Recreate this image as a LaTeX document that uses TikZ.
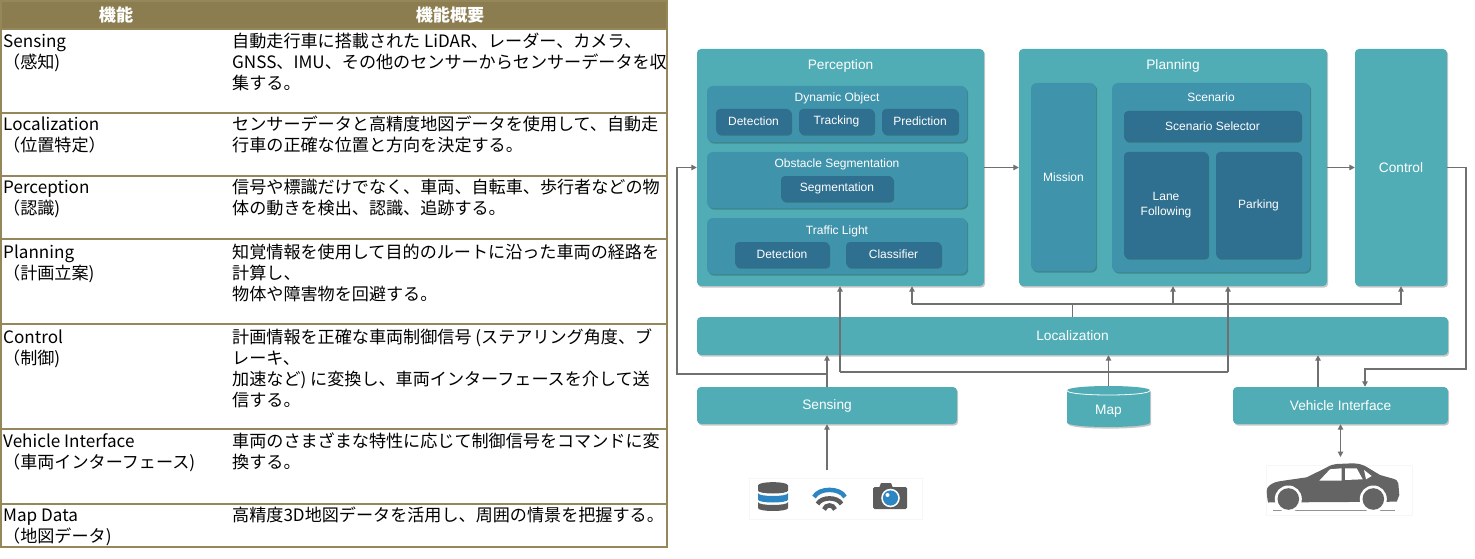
\documentclass[tikz,border=0pt]{standalone}
\usepackage{fontspec}
\setmainfont{Liberation Sans}
\newfontfamily\jp{Noto Sans CJK JP}
\usetikzlibrary{arrows.meta,shadows}
\definecolor{tealA}{HTML}{50ADB5}
\definecolor{tealB}{HTML}{3F93AB}
\definecolor{tealC}{HTML}{2F6F8F}
\definecolor{lineC}{HTML}{707070}
\definecolor{hdrC}{HTML}{8B7D50}
\definecolor{tblC}{HTML}{958759}
\definecolor{icoG}{HTML}{5C5C5C}
\definecolor{icoB}{HTML}{2D86C4}
\definecolor{carC}{HTML}{646464}
\tikzset{
  shd/.style={drop shadow={shadow xshift=1.2pt, shadow yshift=-1.6pt, fill=black, opacity=0.22}},
  obox/.style={shd, fill=tealA, rounded corners=4pt, inner sep=0pt, text=white, font=\fontsize{13.7}{16}\selectfont},
  gbox/.style={shd, fill=tealB, rounded corners=6pt, inner sep=0pt, text=white, font=\fontsize{12}{15}\selectfont},
  lbox/.style={shd, fill=tealC, rounded corners=4pt, inner sep=0pt, text=white, font=\fontsize{12}{15}\selectfont},
  ttl/.style={inner sep=0pt, text=white, font=\fontsize{13.7}{16}\selectfont},
  gtl/.style={inner sep=0pt, text=white, font=\fontsize{12}{15}\selectfont},
  conn/.style={draw=lineC, line width=1.2pt, -{Triangle[length=5.5pt,width=5.5pt]}},
  connb/.style={draw=lineC, line width=1.2pt, {Triangle[length=5.5pt,width=5.5pt]}-{Triangle[length=5.5pt,width=5.5pt]}},
  wire/.style={draw=lineC, line width=1.2pt},
  tblline/.style={draw=tblC, line width=1.5pt},
  tcell/.style={anchor=base west, inner sep=0pt, font=\jp\fontsize{17.1}{21}\selectfont},
  thead/.style={anchor=base, inner sep=0pt, text=white, font=\jp\bfseries\fontsize{17.1}{21}\selectfont},
}
\newcommand\mytl[4]{\node[tcell] (#1) at (#2,#3) {#4};}
\begin{document}
\begin{tikzpicture}[x=1pt,y=-1pt]
\useasboundingbox (0,0) rectangle (1475,559);
% ---------------- table ----------------
\fill[hdrC] (1,1) rectangle (667,29);
\draw[tblline] (1,1) rectangle (667,547);
\foreach \yy in {29,113,176,239,324,429,504} \draw[tblline] (1,\yy) -- (667,\yy);
\node[thead] (h1) at (116,21.5) {機能};
\node[thead] (h2) at (450,21.5) {機能概要};
% row 1
\mytl{a1}{3}{48}{Sensing}
\mytl{a2}{3}{69}{（感知)}
\mytl{b1}{232}{48}{自動走行車に搭載された LiDAR、レーダー、カメラ、}
\mytl{b2}{232}{69}{GNSS、IMU、その他のセンサーからセンサーデータを収}
\mytl{b3}{232}{90}{集する。}
% row 2
\mytl{c1}{3}{130.5}{Localization}
\mytl{c2}{3}{151.5}{（位置特定）}
\mytl{d1}{232}{130.5}{センサーデータと高精度地図データを使用して、自動走}
\mytl{d2}{232}{151.5}{行車の正確な位置と方向を決定する。}
% row 3
\mytl{e1}{3}{193.5}{Perception}
\mytl{e2}{3}{214.5}{（認識)}
\mytl{f1}{232}{193.5}{信号や標識だけでなく、車両、自転車、歩行者などの物}
\mytl{f2}{232}{214.5}{体の動きを検出、認識、追跡する。}
% row 4
\mytl{g1}{3}{258}{Planning}
\mytl{g2}{3}{279}{（計画立案)}
\mytl{k1}{232}{258}{知覚情報を使用して目的のルートに沿った車両の経路を}
\mytl{k2}{232}{279}{計算し、}
\mytl{k3}{232}{300}{物体や障害物を回避する。}
% row 5
\mytl{m1}{3}{343}{Control}
\mytl{m2}{3}{364}{（制御)}
\mytl{n1}{232}{343}{計画情報を正確な車両制御信号 (ステアリング角度、ブ}
\mytl{n2}{232}{364}{レーキ、}
\mytl{n3}{232}{385}{加速など) に変換し、車両インターフェースを介して送}
\mytl{n4}{232}{406}{信する。}
% row 6
\mytl{p1}{3}{447.5}{Vehicle Interface}
\mytl{p2}{3}{468.5}{（車両インターフェース)}
\mytl{q1}{232}{447.5}{車両のさまざまな特性に応じて制御信号をコマンドに変}
\mytl{q2}{232}{468.5}{換する。}
% row 7
\mytl{r1}{3}{521.5}{Map Data}
\mytl{r2}{3}{542.5}{（地図データ)}
\mytl{s1}{232}{521.5}{高精度3D地図データを活用し、周囲の情景を把握する。}
% ---------------- diagram ----------------
% Perception
\node[obox, minimum width=287pt, minimum height=237pt] (perc) at (840.5,167.5) {};
\node[ttl] (percT) at (840.5,66) {Perception};
\node[gbox, minimum width=260pt, minimum height=56pt] (dyn) at (837,114) {};
\node[gtl] (dynT) at (837,98) {Dynamic Object};
\node[lbox, minimum width=75pt, minimum height=25pt] (det1) at (753.5,121.5) {Detection};
\node[lbox, minimum width=75pt, minimum height=25pt] (trk) at (836.5,121.5) {Tracking};
\node[lbox, minimum width=76pt, minimum height=25pt] (pred) at (920,121.5) {Prediction};
\node[gbox, minimum width=260pt, minimum height=56pt] (obs) at (837,180) {};
\node[gtl] (obsT) at (837,164) {Obstacle Segmentation};
\node[lbox, minimum width=112pt, minimum height=25pt] (seg) at (837,188.5) {Segmentation};
\node[gbox, minimum width=260pt, minimum height=56pt] (tfl) at (837,246) {};
\node[gtl] (tflT) at (837,231) {Traffic Light};
\node[lbox, minimum width=94pt, minimum height=25pt] (det2) at (782,254.5) {Detection};
\node[lbox, minimum width=95pt, minimum height=25pt] (cls) at (893.5,254.5) {Classifier};
% Planning
\node[obox, minimum width=308pt, minimum height=237pt] (plan) at (1173,167.5) {};
\node[ttl] (planT) at (1173,66) {Planning};
\node[gbox, minimum width=65pt, minimum height=188pt] (mis) at (1063.5,177) {Mission};
\node[gbox, minimum width=198pt, minimum height=189pt] (scn) at (1211,177.5) {};
\node[gtl] (scnT) at (1211,97) {Scenario};
\node[lbox, minimum width=177pt, minimum height=30pt] (sel) at (1212.5,126) {Scenario Selector};
\node[lbox, minimum width=84pt, minimum height=106pt, align=center] (lane) at (1166,205) {Lane\\Following};
\node[lbox, minimum width=85pt, minimum height=106pt] (park) at (1258.5,205) {Parking};
% Control
\node[obox, minimum width=92pt, minimum height=237pt] (ctrl) at (1401,167.5) {Control};
% Localization, Sensing, Vehicle Interface
\node[obox, minimum width=751pt, minimum height=38pt] (loc) at (1072.5,336) {Localization};
\node[obox, minimum width=260pt, minimum height=37pt] (sens) at (827,405.5) {Sensing};
\node[obox, minimum width=215pt, minimum height=37pt] (vi) at (1340.5,405.5) {Vehicle Interface};
% Map cylinder
\fill[tealA, shd] (1067,390.5) -- (1067,422.5) .. controls (1067,428.5) and (1150,428.5) .. (1150,422.5)
  -- (1150,390.5) .. controls (1150,384.5) and (1067,384.5) .. (1067,390.5) -- cycle;
\draw[white, line width=0.8pt] (1067,390.5) .. controls (1067,396.5) and (1150,396.5) .. (1150,390.5);
\node[inner sep=0pt, minimum width=83pt, minimum height=41pt] (map) at (1108.5,406.5) {};
\node[ttl] (mapT) at (1108.5,411) {Map};
% ---------------- connectors ----------------
\draw[conn] (perc) -- (plan);
\draw[conn] (plan) -- (ctrl);
\coordinate (jl) at (677,374);
\draw[conn] (sens.north) -- (sens.north |- loc.south);
\draw[conn] (sens.north) |- (jl) |- (perc.west);
\coordinate (mp1) at (840,372);
\coordinate (mp2) at (1228,372);
\draw[conn] (map.north) -- (map.north |- loc.south);
\draw[wire] (mp1) -- (mp2);
\draw[conn] (mp1) -- (mp1 |- perc.south);
\draw[conn] (mp2) -- (mp2 |- plan.south);
\coordinate (lj) at (1072.5,304);
\coordinate (lp1) at (912,304);
\coordinate (lp2) at (1173,304);
\draw[wire] (loc.north) -- (lj);
\draw[conn] (lp1) -| (ctrl.south);
\draw[conn] (lp1) -- (lp1 |- perc.south);
\draw[conn] (lp2) -- (lp2 |- plan.south);
\coordinate (cv1) at (1466,369);
\coordinate (cv2) at (1365,369);
\draw[conn] (ctrl.east) -| (cv1) -- (cv2) -- (cv2 |- vi.north);
\coordinate (vl) at (1318,387);
\draw[conn] (vl |- vi.north) -- (vl |- loc.south);
\coordinate (ico) at (827,470);
\draw[conn] (ico) -- (sens.south);
\coordinate (car) at (1340.5,457);
\draw[connb] (vi.south) -- (car);
% ---------------- sensor icons ----------------
\draw[black!3, line width=0.6pt] (749,478) rectangle (922,519);
% database
\fill[icoG] (758,502) .. controls (758,506) and (788,506) .. (788,502) -- (788,508)
  .. controls (788,512) and (758,512) .. (758,508) -- cycle;
\fill[icoB] (758,493) .. controls (758,497) and (788,497) .. (788,493) -- (788,499.5)
  .. controls (788,503.5) and (758,503.5) .. (758,499.5) -- cycle;
\fill[icoG] (758,485.5) .. controls (758,481) and (788,481) .. (788,485.5) -- (788,490.5)
  .. controls (788,494.5) and (758,494.5) .. (758,490.5) -- cycle;
% wifi
\draw[icoB, line width=4.5pt] (814,497) .. controls (819,487.5) and (840,487.5) .. (845,497);
\draw[icoG, line width=4.5pt] (817.5,504) .. controls (821.5,496.5) and (837.5,496.5) .. (841.5,504);
\draw[icoG, line width=4.5pt] (824,509.5) .. controls (826,504) and (833,504) .. (835,509.5);
% camera
\fill[icoG, rounded corners=1.5pt] (873,487) rectangle (907,509);
\fill[icoG] (879,488) -- (881,483) -- (891,483) -- (893,488) -- cycle;
\fill[white] (890.5,498) circle (9.3);
\fill[icoB] (890.5,498) circle (7.6);
\fill[white] (887.5,495) circle (2);
% ---------------- car ----------------
\draw[black!3, line width=0.6pt] (1266,465) rectangle (1412,515);
\fill[carC] (1267.3,498.3) -- (1266.7,491.7) .. controls (1267,488) .. (1270,485)
  .. controls (1275,482) .. (1283.3,480.7) -- (1306.7,477.3)
  .. controls (1316,473) .. (1325,468.3) .. controls (1331,465) .. (1336.7,464)
  -- (1353.3,463.3) .. controls (1360,464) .. (1365,466)
  -- (1380,475) .. controls (1386,477) .. (1391.7,478.3)
  .. controls (1397,480) .. (1398.3,483.3) -- (1399.3,495) -- (1396.7,501.7)
  -- (1268,502.5) -- cycle;
\fill[white] (1319.3,480.7) -- (1330,469.3) -- (1341.7,468.3) -- (1341.7,480.7) -- cycle;
\fill[white] (1345,468.3) -- (1356.7,468.3) -- (1362.7,479.3) -- (1345,480) -- cycle;
\fill[white] (1364,470) -- (1371.7,476) -- (1366,479.3) -- cycle;
\draw[carC!70, line width=1pt] (1273.3,510) -- (1395,510);
\fill[white] (1288.3,499) circle (13.5);
\fill[white] (1373.3,499) circle (13.5);
\fill[carC] (1288.3,499) circle (10.8);
\fill[carC] (1373.3,499) circle (10.8);
\end{tikzpicture}
\end{document}
